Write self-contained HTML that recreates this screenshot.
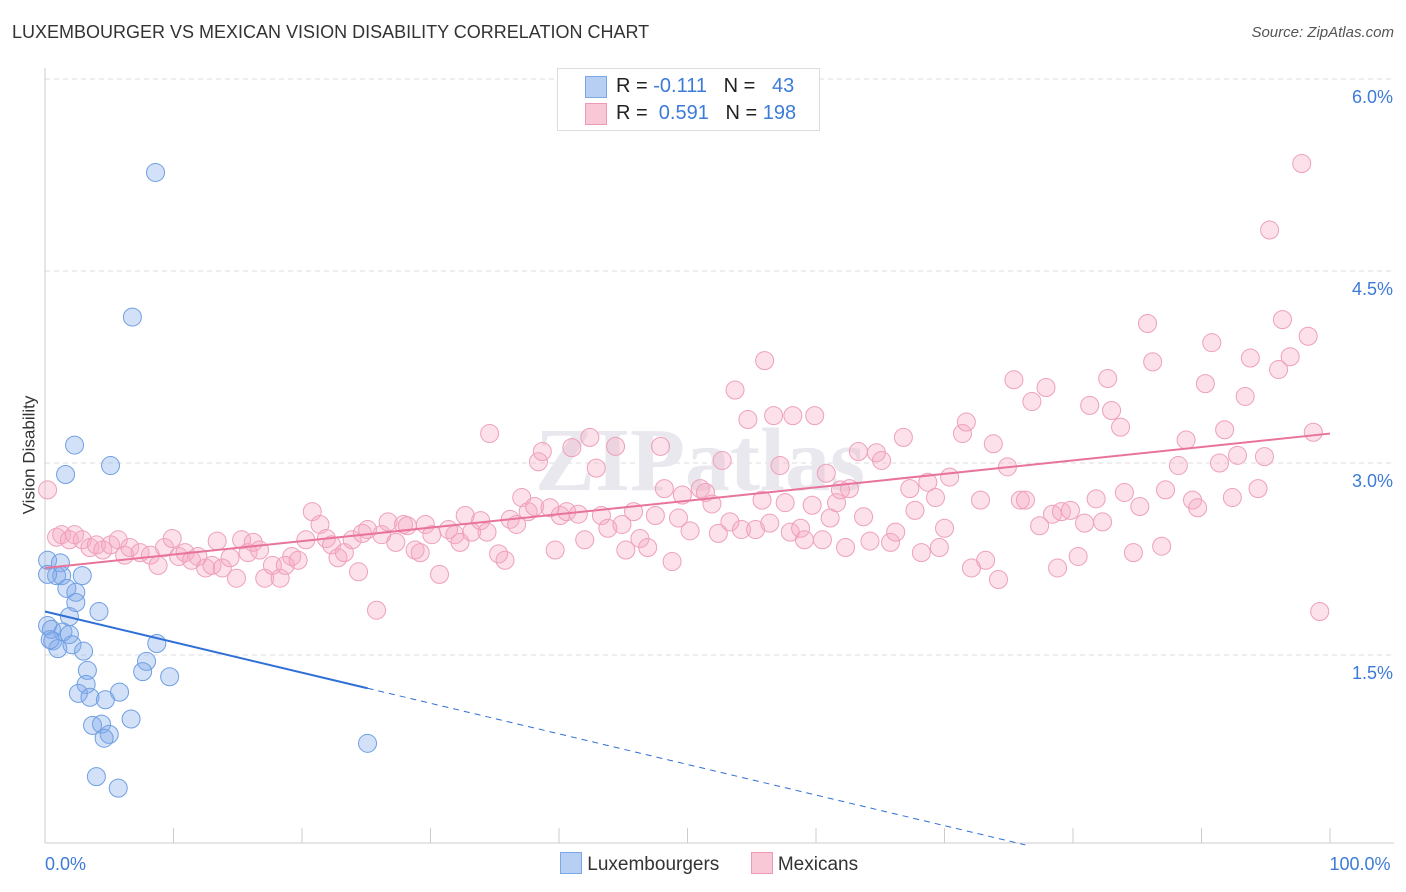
<!DOCTYPE html>
<html><head><meta charset="utf-8"><style>
body{margin:0;background:#fff;font-family:"Liberation Sans",sans-serif}
#wrap{position:relative;width:1406px;height:892px;overflow:hidden}
.t{position:absolute;white-space:nowrap}
</style></head><body>
<div id="wrap">
<div class="t" style="left:12px;top:22px;font-size:18px;color:#333">LUXEMBOURGER VS MEXICAN VISION DISABILITY CORRELATION CHART</div>
<div class="t" style="right:12px;top:24px;font-size:15px;color:#555;font-style:italic">Source: ZipAtlas.com</div>
<div class="t" style="left:-30px;top:445px;font-size:17px;color:#333;transform:rotate(-90deg)">Vision Disability</div>
<svg id="svg" width="1406" height="892" style="position:absolute;left:0;top:0"></svg>
<div style="position:absolute;left:557px;top:68px;width:261px;height:61px;border:1px solid #ddd;background:#fff;font-size:20px">
<div style="position:absolute;left:27px;top:7px;width:20px;height:20px;background:#b7cff3;border:1px solid #7da6e6"></div>
<div class="t" style="left:58px;top:6px;color:#222">R = <span style="color:#3d7bd8">-0.111</span>&nbsp;&nbsp;&nbsp;N = &nbsp;&nbsp;<span style="color:#3d7bd8">43</span></div>
<div style="position:absolute;left:27px;top:34px;width:20px;height:20px;background:#f9c8d6;border:1px solid #ee9ab5"></div>
<div class="t" style="left:58px;top:33px;color:#222">R = &nbsp;<span style="color:#3d7bd8">0.591</span>&nbsp;&nbsp;&nbsp;N = <span style="color:#3d7bd8">198</span></div>
</div>
<div style="position:absolute;left:560px;top:852px;font-size:19px;color:#333">
<span style="display:inline-block;width:20px;height:20px;background:#b7cff3;border:1px solid #7da6e6;vertical-align:-4px"></span> Luxembourgers
<span style="display:inline-block;width:20px;height:20px;background:#f9c8d6;border:1px solid #ee9ab5;vertical-align:-4px;margin-left:26px"></span> Mexicans
</div>
</div>
<script>
const luxX=[8.6,6.8,2.3,1.6,5.1,0.2,1.2,0.9,1.3,2.9,1.7,2.4,2.4,4.2,1.9,0.2,0.5,1.4,1.9,0.6,1.0,2.1,8.7,3.0,7.9,3.3,7.6,9.7,3.2,2.6,3.5,5.8,4.7,6.7,3.7,4.4,5.0,4.6,4.0,5.7,25.1,0.2,0.4];
const luxY=[5.27,4.14,3.14,2.91,2.98,2.24,2.22,2.12,2.12,2.12,2.02,1.99,1.91,1.84,1.80,1.73,1.70,1.68,1.66,1.61,1.55,1.58,1.59,1.53,1.45,1.38,1.37,1.33,1.27,1.20,1.17,1.21,1.15,1.00,0.95,0.96,0.88,0.85,0.55,0.46,0.81,2.13,1.62];
const mexX=[0.2,0.9,1.3,1.9,2.3,2.9,3.5,4.0,4.5,5.1,5.7,6.2,6.6,7.4,8.2,8.8,9.3,9.9,10.4,10.9,11.4,11.9,12.5,13.0,13.4,13.8,14.4,14.9,15.3,15.8,16.2,16.7,17.1,17.7,18.3,18.7,19.2,19.7,20.3,20.8,21.4,21.9,22.3,22.8,23.3,23.9,24.4,24.7,25.1,25.8,26.2,26.7,27.3,27.9,28.2,28.8,29.2,29.6,30.1,30.7,31.4,31.9,32.3,32.7,33.2,33.9,34.4,34.6,35.3,35.8,36.2,36.7,37.1,37.6,38.1,38.4,38.7,39.3,39.7,40.1,40.6,41.0,41.5,42.0,42.4,42.9,43.3,43.8,44.4,44.9,45.2,45.8,46.3,46.9,47.5,47.9,48.2,48.8,49.3,49.6,50.2,51.0,51.4,51.9,52.4,52.7,53.3,53.7,54.2,54.7,55.3,55.8,56.0,56.4,56.7,57.2,57.6,58.0,58.2,58.8,59.1,59.7,59.9,60.5,60.8,61.1,61.6,61.9,62.3,62.6,63.3,63.7,64.2,64.7,65.1,65.8,66.2,66.8,67.3,67.7,68.2,68.7,69.3,69.6,70.0,70.4,71.4,71.7,72.1,72.8,73.2,73.8,74.2,74.9,75.4,75.9,76.3,76.8,77.4,77.9,78.4,78.8,79.1,79.8,80.4,80.9,81.3,81.8,82.3,82.7,83.0,83.7,84.0,84.7,85.2,85.8,86.2,86.9,87.2,88.2,88.8,89.3,90.3,90.8,91.4,91.8,92.4,92.8,93.4,93.8,94.4,94.9,95.3,96.0,96.3,96.9,97.8,98.3,98.7,99.2,89.7];
const mexY=[2.79,2.42,2.44,2.40,2.44,2.40,2.34,2.36,2.32,2.36,2.40,2.28,2.34,2.30,2.28,2.20,2.34,2.41,2.27,2.30,2.24,2.27,2.18,2.20,2.39,2.18,2.26,2.10,2.40,2.30,2.38,2.32,2.10,2.20,2.10,2.20,2.27,2.24,2.40,2.62,2.52,2.41,2.36,2.26,2.30,2.40,2.15,2.45,2.48,1.85,2.44,2.54,2.38,2.52,2.51,2.32,2.30,2.52,2.44,2.13,2.48,2.44,2.38,2.59,2.46,2.55,2.46,3.23,2.29,2.24,2.56,2.52,2.73,2.62,2.66,3.01,3.09,2.65,2.32,2.59,2.62,3.12,2.60,2.40,3.20,2.96,2.59,2.49,3.13,2.52,2.32,2.62,2.41,2.34,2.59,3.13,2.80,2.23,2.57,2.75,2.47,2.80,2.77,2.68,2.45,3.02,2.54,3.57,2.48,3.34,2.48,2.71,3.80,2.53,3.37,2.98,2.69,2.46,3.37,2.49,2.40,2.67,3.37,2.40,2.92,2.57,2.69,2.79,2.34,2.80,3.09,2.58,2.39,3.08,3.02,2.38,2.46,3.20,2.80,2.63,2.30,2.85,2.73,2.34,2.49,2.89,3.23,3.32,2.18,2.71,2.24,3.15,2.09,2.97,3.65,2.71,2.71,3.48,2.51,3.59,2.60,2.18,2.62,2.63,2.27,2.53,3.45,2.72,2.54,3.66,3.41,3.28,2.77,2.30,2.66,4.09,3.79,2.35,2.79,2.98,3.18,2.71,3.62,3.94,3.00,3.26,2.73,3.06,3.52,3.82,2.80,3.05,4.82,3.73,4.12,3.83,5.34,3.99,3.24,1.84,2.65];
const yTicks=[1.5,3.0,4.5,6.0];
const xTickLabels=["0.0%","100.0%"];
const luxTrend=[1.84,-0.111];   // intercept, slope-ish endpoints: value at 0% and value at 25%
const luxTrendEnd=[25.1,1.24];
const mexTrend=[2.18,3.23];     // value at 0% and 100%

const svg=document.getElementById('svg');const NS='http://www.w3.org/2000/svg';
const X=v=>45+v*12.85, Y=v=>847-v*128;
function mk(t,a){const e=document.createElementNS(NS,t);for(const k in a)e.setAttribute(k,a[k]);svg.appendChild(e);return e;}
yTicks.forEach(v=>{const l=mk('line',{x1:45,x2:1394,y1:Y(v),y2:Y(v),stroke:'#ddd','stroke-dasharray':'5,4'});


const t=mk('text',{x:1393,y:Y(v)+24,'text-anchor':'end','font-size':18,fill:'#3d7bd8','font-family':'Liberation Sans'});t.textContent=v.toFixed(1)+'%';

});
mk('line',{x1:45,x2:45,y1:68,y2:843,stroke:'#ccc'});
mk('line',{x1:45,x2:1394,y1:843,y2:843,stroke:'#ccc'});
for(let i=0;i<=10;i++){const tk=mk('line',{x1:X(i*10),x2:X(i*10),y1:828,y2:843,stroke:'#ccc'});

}
[[0,'start',45],[100,'middle',0]].forEach((d,i)=>{const t=mk('text',{x:i?1360:45,y:870,'text-anchor':d[1],'font-size':18,fill:'#3d7bd8','font-family':'Liberation Sans'});t.textContent=xTickLabels[i];

});
const wm=mk('text',{x:700,y:490,'text-anchor':'middle','font-size':90,fill:'#e8e8ee','font-family':'Liberation Serif','font-weight':'bold'});wm.textContent='ZIPatlas';


mexX.forEach((x,i)=>{const c=mk('circle',{cx:X(x),cy:Y(mexY[i]),r:9,fill:'rgba(246,170,196,0.35)',stroke:'#eea0ba','stroke-width':1});

});
luxX.forEach((x,i)=>{const c=mk('circle',{cx:X(x),cy:Y(luxY[i]),r:9,fill:'rgba(130,170,235,0.35)',stroke:'#6f9fe2','stroke-width':1});

});
const slope=(luxTrendEnd[1]-luxTrend[0])/luxTrendEnd[0];
const l1=mk('line',{x1:X(0),y1:Y(luxTrend[0]),x2:X(luxTrendEnd[0]),y2:Y(luxTrendEnd[1]),stroke:'#2f6fd6','stroke-width':2});


const xe=76.3;
const l2=mk('line',{x1:X(luxTrendEnd[0]),y1:Y(luxTrendEnd[1]),x2:X(xe),y2:Y(luxTrend[0]+slope*xe),stroke:'#2f6fd6','stroke-width':1,'stroke-dasharray':'6,5'});


const l3=mk('line',{x1:X(0),y1:Y(mexTrend[0]),x2:X(100),y2:Y(mexTrend[1]),stroke:'#e8739b','stroke-width':2});


</script>
</body></html>
